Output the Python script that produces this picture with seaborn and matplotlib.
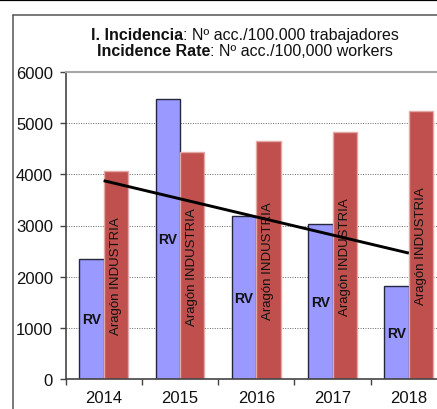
import numpy as np
import pandas as pd
import matplotlib
matplotlib.use("Agg")
import matplotlib.pyplot as plt
import seaborn as sns
from matplotlib.lines import Line2D

# Incidence rate (accidents per 100,000 workers)
years = ["2014", "2015", "2016", "2017", "2018"]
rv_rate = [2350, 5480, 3180, 3020, 1810]
aragon_rate = [4070, 4430, 4660, 4820, 5240]
series_names = ["RV", "Aragón INDUSTRIA"]
y_ticks = [0, 1000, 2000, 3000, 4000, 5000, 6000]

df = pd.DataFrame({
    "year": years * 2,
    "series": [series_names[0]] * len(years) + [series_names[1]] * len(years),
    "rate": rv_rate + aragon_rate,
})

sns.set_theme(style="white")
plt.rcParams["font.family"] = ["Liberation Sans", "DejaVu Sans"]

W, H = 437, 410
fig = plt.figure(figsize=(W / 100, H / 100), dpi=100)
fig.patch.set_facecolor("white")
ax = fig.add_axes([65.5 / W, 30 / H, (447 - 65.5) / W, (380 - 73) / H])

sns.barplot(data=df, x="year", y="rate", hue="series",
            palette=["#9999ff", "#c0504d"], width=0.64, saturation=1,
            legend=False, ax=ax)

rv_bars, ar_bars = ax.containers[0], ax.containers[1]
for b in rv_bars:
    b.set_edgecolor("#262640")
    b.set_linewidth(1.0)
for b in ar_bars:
    b.set_edgecolor("#e3a9a7")
    b.set_linewidth(1.0)

ax.bar_label(rv_bars, labels=[series_names[0]] * len(years), label_type="center",
             fontsize=10, fontweight="bold", color="#111111")
ax.bar_label(ar_bars, labels=[series_names[1]] * len(years), label_type="center",
             rotation=90, fontsize=9.5, color="#111111")

# Linear trend of the RV series
xpos = np.arange(len(years))
coef = np.polyfit(xpos, rv_rate, 1)
ax.plot(xpos[[0, -1]], np.polyval(coef, xpos[[0, -1]]), color="black", lw=2.1,
        zorder=5, solid_capstyle="butt")

ax.set_xlim(-0.5, len(years) - 0.5)
ax.set_ylim(y_ticks[0], y_ticks[-1])
ax.set_yticks(y_ticks)
ax.set_xlabel("")
ax.set_ylabel("")
ax.set_axisbelow(True)
ax.yaxis.grid(True, linestyle=(0, (1, 1.5)), color="#666666", linewidth=0.7)

ax.tick_params(axis="y", which="major", direction="out", length=4, width=1,
               color="#444444", labelsize=12, pad=5, left=True, labelcolor="#111111")
ax.set_xticks(xpos)
ax.set_xticklabels(years)
ax.tick_params(axis="x", which="major", length=0, labelsize=12, pad=8,
               labelcolor="#111111")
ax.set_xticks(np.arange(-0.5, len(years), 1.0), minor=True)
ax.tick_params(axis="x", which="minor", direction="out", length=4, width=1,
               color="#444444", bottom=True)

for side in ("left", "bottom"):
    ax.spines[side].set_color("#444444")
    ax.spines[side].set_linewidth(1.2)
ax.spines["top"].set_color("#a8a8a8")
ax.spines["top"].set_linewidth(1.5)
ax.spines["right"].set_visible(False)

# Two-line title with bold lead-in words
renderer = fig.canvas.get_renderer()


def mixed_line(y_px, bold, rest, size=11.5, cx=245):
    t1 = fig.text(0, 1 - y_px / H, bold, fontweight="bold", fontsize=size,
                  va="baseline", ha="left", color="#111111")
    t2 = fig.text(0, 1 - y_px / H, rest, fontsize=size,
                  va="baseline", ha="left", color="#111111")
    w1 = t1.get_window_extent(renderer).width
    w2 = t2.get_window_extent(renderer).width
    x0 = cx - (w1 + w2) / 2
    t1.set_x(x0 / W)
    t2.set_x((x0 + w1) / W)


mixed_line(40, "I. Incidencia", ": Nº acc./100.000 trabajadores")
mixed_line(56, "Incidence Rate", ": Nº acc./100,000 workers")

# Frame lines around the chart
fig.add_artist(Line2D([0, 1], [1 - 0.8 / H] * 2, color="black", lw=1.6,
                      transform=fig.transFigure))
fig.add_artist(Line2D([12.5 / W, 12.5 / W], [0, 1 - 16 / H], color="#555555",
                      lw=1.1, transform=fig.transFigure))
fig.add_artist(Line2D([12.5 / W, 1], [1 - 16 / H] * 2, color="#555555",
                      lw=1.1, transform=fig.transFigure))

fig.savefig("out.png", dpi=100)
